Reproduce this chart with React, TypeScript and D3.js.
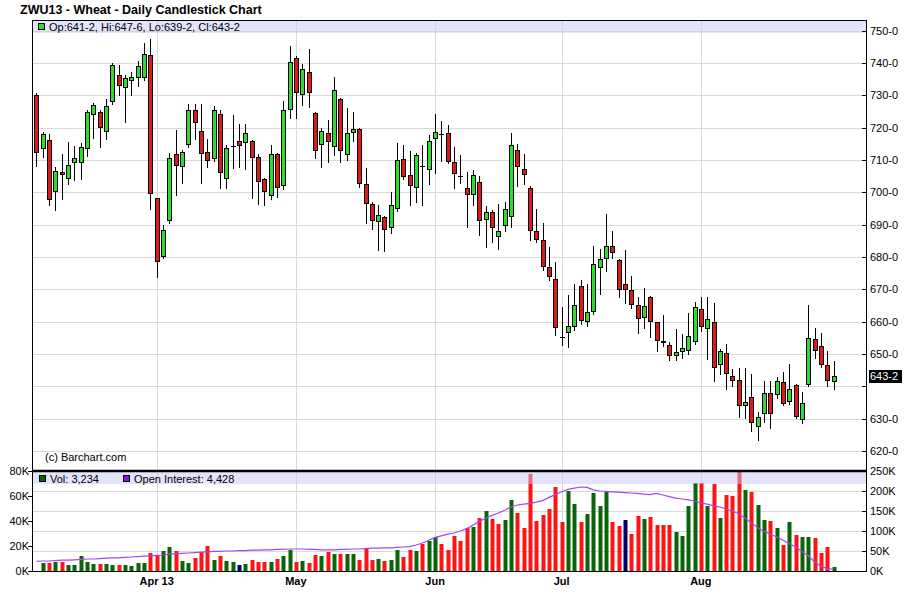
import React, { useEffect, useRef } from 'react';
import * as d3 from 'd3';

// trading days shown on the chart
const dates: string[] = [
  '2013-03-04', '2013-03-05', '2013-03-06', '2013-03-07', '2013-03-08', '2013-03-11', '2013-03-12',
  '2013-03-13', '2013-03-14', '2013-03-15', '2013-03-18', '2013-03-19', '2013-03-20', '2013-03-21',
  '2013-03-22', '2013-03-25', '2013-03-26', '2013-03-27', '2013-03-28',
  '2013-04-01', '2013-04-02', '2013-04-03', '2013-04-04', '2013-04-05', '2013-04-08', '2013-04-09',
  '2013-04-10', '2013-04-11', '2013-04-12', '2013-04-15', '2013-04-16', '2013-04-17', '2013-04-18',
  '2013-04-19', '2013-04-22', '2013-04-23', '2013-04-24', '2013-04-25', '2013-04-26', '2013-04-29',
  '2013-04-30',
  '2013-05-01', '2013-05-02', '2013-05-03', '2013-05-06', '2013-05-07', '2013-05-08', '2013-05-09',
  '2013-05-10', '2013-05-13', '2013-05-14', '2013-05-15', '2013-05-16', '2013-05-17', '2013-05-20',
  '2013-05-21', '2013-05-22', '2013-05-23', '2013-05-24', '2013-05-28', '2013-05-29', '2013-05-30',
  '2013-05-31',
  '2013-06-03', '2013-06-04', '2013-06-05', '2013-06-06', '2013-06-07', '2013-06-10', '2013-06-11',
  '2013-06-12', '2013-06-13', '2013-06-14', '2013-06-17', '2013-06-18', '2013-06-19', '2013-06-20',
  '2013-06-21', '2013-06-24', '2013-06-25', '2013-06-26', '2013-06-27', '2013-06-28',
  '2013-07-01', '2013-07-02', '2013-07-03', '2013-07-05', '2013-07-08', '2013-07-09', '2013-07-10',
  '2013-07-11', '2013-07-12', '2013-07-15', '2013-07-16', '2013-07-17', '2013-07-18', '2013-07-19',
  '2013-07-22', '2013-07-23', '2013-07-24', '2013-07-25', '2013-07-26', '2013-07-29', '2013-07-30',
  '2013-07-31',
  '2013-08-01', '2013-08-02', '2013-08-05', '2013-08-06', '2013-08-07', '2013-08-08', '2013-08-09',
  '2013-08-12', '2013-08-13', '2013-08-14', '2013-08-15', '2013-08-16', '2013-08-19', '2013-08-20',
  '2013-08-21', '2013-08-22', '2013-08-23', '2013-08-26', '2013-08-27', '2013-08-28', '2013-08-29',
  '2013-08-30',
];

// open, high, low, close (cents/bu)
const ohlc: [number, number, number, number][] = [
  [730.2, 730.6, 708.0, 712.1], [713.4, 718.5, 710.9, 718.0], [716.3, 718.0, 695.9, 697.5],
  [700.1, 707.7, 694.6, 706.7], [706.2, 711.8, 697.9, 705.4], [704.1, 715.5, 702.6, 708.4],
  [709.0, 714.4, 703.9, 710.6], [709.0, 715.2, 704.1, 714.0], [713.4, 725.5, 711.1, 724.9],
  [723.9, 727.6, 716.7, 727.0], [724.9, 725.5, 714.0, 719.9], [718.6, 728.8, 716.5, 726.7],
  [727.9, 740.0, 727.2, 739.4], [736.3, 739.2, 730.2, 732.9], [732.1, 736.3, 721.6, 735.2],
  [734.4, 737.1, 730.0, 735.7], [735.3, 740.7, 732.8, 739.1], [735.3, 746.2, 734.6, 742.8],
  [742.3, 747.5, 694.8, 699.4],
  [698.1, 698.1, 673.9, 678.4], [680.1, 689.8, 679.6, 688.3], [691.1, 712.1, 690.6, 710.6],
  [711.8, 719.3, 699.0, 708.1], [707.8, 713.2, 702.8, 712.4], [714.6, 727.4, 714.0, 725.4],
  [725.4, 727.3, 716.5, 721.4], [718.9, 727.4, 702.8, 711.8], [712.4, 716.5, 707.8, 709.6],
  [710.4, 726.6, 709.8, 725.4], [724.2, 725.5, 701.2, 705.9], [704.1, 714.5, 701.3, 713.7],
  [714.2, 724.0, 707.5, 714.2], [715.8, 721.2, 707.8, 714.2], [715.2, 721.1, 707.2, 718.3],
  [715.8, 716.2, 698.2, 710.6], [710.9, 711.8, 696.3, 703.1], [704.1, 704.5, 696.0, 700.0],
  [698.8, 714.6, 698.0, 711.8], [711.8, 712.2, 698.5, 701.3], [701.9, 728.3, 701.0, 725.4],
  [725.4, 745.3, 723.0, 740.3],
  [741.5, 742.0, 723.0, 730.7], [730.2, 739.5, 727.1, 738.1], [737.2, 744.3, 726.3, 730.7],
  [724.5, 724.8, 710.6, 712.8], [714.6, 720.0, 707.7, 718.9], [718.3, 722.4, 709.2, 715.5],
  [714.0, 735.6, 711.6, 731.6], [728.8, 729.2, 709.5, 712.8], [711.5, 726.0, 710.1, 718.3],
  [718.3, 724.9, 715.8, 719.6], [719.6, 720.0, 701.5, 702.5], [702.5, 707.6, 690.5, 696.3],
  [696.3, 697.0, 688.5, 691.1], [690.8, 695.9, 682.0, 692.9], [692.3, 692.6, 681.8, 688.3],
  [688.9, 700.0, 687.4, 696.0], [694.8, 715.2, 694.2, 710.0], [710.3, 714.6, 704.2, 704.8],
  [705.3, 712.7, 696.0, 701.9], [701.3, 712.1, 696.9, 711.5], [708.1, 714.6, 696.2, 708.1],
  [706.9, 717.7, 702.4, 715.8],
  [716.5, 724.3, 705.9, 718.6], [718.1, 722.1, 709.8, 718.1], [718.3, 720.8, 709.0, 709.3],
  [709.3, 714.0, 701.2, 705.5], [705.0, 711.5, 702.8, 705.0], [701.3, 706.2, 689.4, 699.0],
  [699.0, 706.8, 696.0, 705.3], [703.1, 704.9, 686.9, 691.0], [691.4, 695.8, 683.2, 693.9],
  [693.9, 694.5, 684.6, 688.9], [686.1, 696.3, 682.4, 688.0], [689.5, 697.1, 687.9, 694.8],
  [692.3, 718.3, 689.4, 714.6], [713.0, 714.9, 701.8, 707.8], [707.2, 711.8, 702.5, 705.3],
  [701.3, 701.9, 685.1, 687.9], [688.0, 694.8, 684.5, 685.2], [685.2, 690.5, 676.0, 677.0],
  [677.0, 683.2, 672.9, 673.9], [673.2, 678.4, 655.9, 658.0],
  [655.3, 664.4, 652.8, 655.3], [656.4, 668.3, 652.3, 658.5], [658.3, 671.7, 657.5, 665.1],
  [671.1, 672.9, 659.3, 660.1], [659.8, 671.6, 658.7, 663.1], [663.1, 683.5, 662.4, 677.8],
  [676.5, 682.4, 668.6, 679.3], [679.3, 693.4, 675.8, 683.4], [683.4, 688.1, 679.6, 681.2],
  [679.0, 679.5, 667.6, 669.7], [671.6, 682.0, 665.7, 669.7], [669.8, 674.2, 664.1, 665.1],
  [665.1, 667.6, 656.6, 660.8], [661.1, 670.4, 658.0, 664.8], [667.6, 668.0, 655.2, 659.8],
  [659.8, 660.0, 650.8, 654.0], [654.0, 662.1, 652.5, 653.3], [652.7, 653.8, 648.1, 649.3],
  [649.3, 657.7, 648.1, 650.5], [650.5, 656.1, 648.8, 651.8], [650.8, 662.7, 650.0, 655.5],
  [653.8, 666.0, 653.0, 664.5],
  [663.9, 667.6, 657.0, 658.3], [657.7, 667.6, 648.4, 660.8], [659.8, 665.7, 641.5, 645.6],
  [646.5, 651.5, 643.7, 650.9], [650.2, 653.0, 639.1, 643.7], [643.1, 645.3, 640.1, 641.5],
  [641.9, 645.6, 630.6, 633.8], [633.8, 645.6, 630.1, 635.1], [636.6, 643.8, 626.3, 628.6],
  [627.3, 632.2, 623.4, 630.6], [631.5, 641.5, 629.1, 637.9], [637.9, 641.5, 627.0, 631.5],
  [637.3, 643.0, 636.5, 641.5], [641.2, 644.4, 634.2, 634.6], [635.2, 646.9, 634.5, 639.1],
  [640.3, 640.6, 630.1, 630.6], [629.6, 638.2, 628.6, 634.8], [640.3, 665.1, 640.0, 654.9],
  [654.6, 658.1, 648.7, 650.8], [652.4, 656.4, 646.0, 646.7], [646.5, 651.0, 640.1, 641.5],
  [641.25, 647.75, 639.25, 643.25],
];

// daily volume (contracts)
const volume: number[] = [
  0, 6400, 6400, 7200, 7200, 4800, 4800, 12000, 7200, 5600, 5600, 5600, 4800, 4800, 4800, 4000, 6400, 6400, 14400,
  12800, 16000, 19200, 16000, 8000, 6400, 10400, 15200, 20000, 8800, 12000, 8000, 7200, 4800, 5600, 8800, 7200,
  7200, 7200, 9600, 12000, 17000,
  7200, 8000, 6400, 12800, 12000, 15200, 13600, 13600, 13600, 13600, 8800, 17900, 8800, 9400, 8000, 8800, 16800,
  11500, 16800, 16000, 21300, 24000,
  27200, 21300, 16800, 28000, 24000, 34400, 35200, 42400, 48000, 41600, 37600, 40800, 56800, 46400, 34400, 77600,
  40000, 44800, 49600, 67200,
  39200, 64000, 53600, 39200, 45600, 62400, 52000, 63200, 39200, 36000, 40800, 29600, 44000, 41600, 43200, 36800,
  36800, 36800, 31200, 28000, 52000, 70400,
  70400, 52000, 69600, 42400, 60800, 60000, 82000, 64800, 63200, 52800, 40800, 40000, 34400, 20800, 39200, 28800,
  27200, 27200, 26400, 14400, 19200, 3234,
];

// open interest (thousands of contracts)
const openInterest: number[] = [
  24, 25, 25, 26, 27, 27, 28, 29, 30, 30, 31, 32, 33, 33, 34, 35, 36, 37, 38,
  39, 40, 42, 43, 44, 45, 46, 47, 48, 49, 49, 50, 50, 51, 51, 52, 52, 53, 53, 54, 54, 55,
  55, 55, 54, 54, 53, 53, 53, 54, 54, 55, 55, 56, 57, 57, 58, 58, 59, 60, 61, 65, 70, 77,
  84, 88, 92, 95, 100, 106, 115, 124, 132, 139, 145, 152, 160, 165, 167, 169, 172, 176, 184, 191,
  198, 204, 207, 210, 209, 203, 200, 199, 198, 197, 196, 195, 194, 192, 191, 194, 190, 186, 182, 180,
  178, 175,
  170, 167, 163, 160, 155, 150, 143, 132, 120, 108, 99, 92, 85, 77, 68, 60, 48, 38, 22, 12, 6, 4.428,
];

const priceTicks = [620, 630, 640, 650, 660, 670, 680, 690, 700, 710, 720, 730, 740, 750];
const volumeTicks = [0, 20000, 40000, 60000, 80000];
const oiTicks = [0, 50000, 100000, 150000, 200000, 250000];
const monthStarts = ['2013-04-01', '2013-05-01', '2013-06-03', '2013-07-01', '2013-08-01'];
const monthLabels = ['Apr 13', 'May', 'Jun', 'Jul', 'Aug'];

const FONT = '"Liberation Sans", Arial, sans-serif';

const fmtPrice = (p: number) => {
  const whole = Math.floor(p);
  return `${whole}-${Math.round((p - whole) * 8)}`;
};

const App: React.FC = () => {
  const svgRef = useRef<SVGSVGElement>(null);

  useEffect(() => {
    if (!svgRef.current) return;
    const svg = d3.select(svgRef.current);
    svg.selectAll('*').remove();

    const width = 908;
    const height = 595;
    const left = 32;
    const right = 866;
    const top = 20;
    const split = 471;
    const bottom = 571;

    const x = d3.scaleLinear()
      .domain([-0.71, dates.length + 4.1])
      .range([left, right]);
    const y = d3.scaleLinear().domain([620, 750]).range([451, 30.5]);
    const yVol = d3.scaleLinear().domain([0, 80000]).range([bottom, split]);
    const yOI = d3.scaleLinear().domain([0, 250000]).range([bottom, split]);

    const crisp = (v: number) => Math.round(v) + 0.5;
    const grid = '#d9d9d9';

    svg.append('rect').attr('width', width).attr('height', height).attr('fill', '#fff');

    const defs = svg.append('defs');
    defs.append('clipPath').attr('id', 'price-clip')
      .append('rect').attr('x', left + 1).attr('y', top + 1)
      .attr('width', right - left - 1).attr('height', split - top - 1);
    defs.append('clipPath').attr('id', 'vol-clip')
      .append('rect').attr('x', left + 1).attr('y', split + 1)
      .attr('width', right - left - 1).attr('height', bottom - split - 1);

    // grid lines
    const gridG = svg.append('g').attr('stroke', grid).attr('stroke-width', 1);
    priceTicks.forEach(t => {
      gridG.append('line')
        .attr('x1', left).attr('x2', right)
        .attr('y1', crisp(y(t))).attr('y2', crisp(y(t)));
    });
    oiTicks.filter(t => t > 0 && t < 250000).forEach(t => {
      gridG.append('line')
        .attr('x1', left).attr('x2', right)
        .attr('y1', crisp(yOI(t))).attr('y2', crisp(yOI(t)));
    });
    monthStarts.forEach(d => {
      const xi = crisp(x(dates.indexOf(d)));
      gridG.append('line').attr('x1', xi).attr('x2', xi).attr('y1', top).attr('y2', bottom);
    });

    // candles
    const cg = svg.append('g').attr('clip-path', 'url(#price-clip)');
    ohlc.forEach(([o, h, l, c], i) => {
      const px = Math.round(x(i));
      cg.append('line')
        .attr('x1', px + 0.5).attr('x2', px + 0.5)
        .attr('y1', Math.round(y(h))).attr('y2', Math.round(y(l)) + 1)
        .attr('stroke', '#000');
      if (o === c) {
        cg.append('line')
          .attr('x1', px - 2).attr('x2', px + 3)
          .attr('y1', crisp(y(o))).attr('y2', crisp(y(o)))
          .attr('stroke', '#000');
        return;
      }
      const yTop = Math.round(y(Math.max(o, c)));
      const yBot = Math.round(y(Math.min(o, c)));
      cg.append('rect')
        .attr('x', px - 1.5).attr('y', yTop + 0.5)
        .attr('width', 4).attr('height', Math.max(1, yBot - yTop - 1))
        .attr('fill', c > o ? '#2edc2e' : '#dc1a1a')
        .attr('stroke', '#000');
    });

    // price legend band
    svg.append('rect')
      .attr('x', left + 1).attr('y', top + 1).attr('width', right - left - 1).attr('height', 12)
      .attr('fill', '#c8c8f8').attr('opacity', 0.5);
    const last = ohlc[ohlc.length - 1];
    svg.append('rect')
      .attr('x', 38.5).attr('y', 23.5).attr('width', 6).attr('height', 6)
      .attr('fill', '#2edc2e').attr('stroke', '#000');
    svg.append('text')
      .attr('x', 49).attr('y', 31)
      .attr('font-family', FONT).attr('font-size', 11)
      .text(`Op:${fmtPrice(last[0])}, Hi:${fmtPrice(last[1])}, Lo:${fmtPrice(last[2])}, Cl:${fmtPrice(last[3])}`);

    svg.append('text')
      .attr('x', 45).attr('y', 461)
      .attr('font-family', FONT).attr('font-size', 11)
      .text('(c) Barchart.com');

    // volume bars
    const vg = svg.append('g').attr('clip-path', 'url(#vol-clip)');
    volume.forEach((v, i) => {
      if (!v) return;
      const prev = i > 0 ? ohlc[i - 1][3] : ohlc[i][0];
      const close = ohlc[i][3];
      const fill = close > prev ? '#0a650a' : close < prev ? '#ff1414' : '#000066';
      const px = Math.round(x(i));
      const yv = Math.round(yVol(v));
      vg.append('rect')
        .attr('x', px - 1.5).attr('y', yv)
        .attr('width', 4).attr('height', bottom - yv)
        .attr('fill', fill);
    });

    const oiLine = d3.line<number>()
      .x((_, i) => x(i))
      .y(d => yOI(d * 1000));
    vg.append('path')
      .datum(openInterest)
      .attr('fill', 'none')
      .attr('stroke', '#a347f5')
      .attr('stroke-width', 1.2)
      .attr('d', oiLine);

    svg.append('rect')
      .attr('x', left + 1).attr('y', split + 1).attr('width', right - left - 1).attr('height', 12)
      .attr('fill', '#c8c8f8').attr('opacity', 0.5);
    svg.append('rect')
      .attr('x', 39.5).attr('y', 475.5).attr('width', 6).attr('height', 6)
      .attr('fill', '#0a650a').attr('stroke', '#000');
    svg.append('text')
      .attr('x', 50).attr('y', 483)
      .attr('font-family', FONT).attr('font-size', 11)
      .text(`Vol: ${d3.format(',')(volume[volume.length - 1])}`);
    svg.append('rect')
      .attr('x', 123.5).attr('y', 475.5).attr('width', 6).attr('height', 6)
      .attr('fill', '#9010e0').attr('stroke', '#000');
    svg.append('text')
      .attr('x', 134).attr('y', 483)
      .attr('font-family', FONT).attr('font-size', 11)
      .text(`Open Interest: ${d3.format(',')(Math.round(openInterest[openInterest.length - 1] * 1000))}`);

    // frame
    const frame = svg.append('g').attr('stroke', '#000');
    frame.append('line').attr('x1', left + 0.5).attr('x2', left + 0.5).attr('y1', top).attr('y2', bottom + 1);
    frame.append('line').attr('x1', right + 0.5).attr('x2', right + 0.5).attr('y1', top).attr('y2', bottom + 1);
    frame.append('line').attr('x1', left).attr('x2', right + 1).attr('y1', top + 0.5).attr('y2', top + 0.5);
    frame.append('line').attr('x1', left).attr('x2', right + 1).attr('y1', bottom + 0.5).attr('y2', bottom + 0.5);
    frame.append('line').attr('x1', left).attr('x2', right + 1).attr('y1', split).attr('y2', split)
      .attr('stroke-width', 2.5);

    // right price axis
    const axisG = svg.append('g').attr('font-family', FONT).attr('font-size', 11);
    const lastClose = last[3];
    priceTicks.forEach(t => {
      const yy = crisp(y(t));
      axisG.append('line').attr('x1', right - 4).attr('x2', right).attr('y1', yy).attr('y2', yy).attr('stroke', '#000');
      if (Math.abs(t - lastClose) < 4) return;
      axisG.append('text').attr('x', right + 4).attr('y', yy).attr('dy', '0.35em').text(`${t}-0`);
    });
    const yLast = Math.round(y(lastClose));
    axisG.append('rect').attr('x', right + 3).attr('y', yLast - 6).attr('width', 33).attr('height', 13).attr('fill', '#000');
    axisG.append('text').attr('x', right + 4).attr('y', yLast + 0.5).attr('dy', '0.35em')
      .attr('fill', '#fff').text(fmtPrice(lastClose));

    // volume axes
    volumeTicks.forEach(t => {
      const yy = crisp(yVol(t));
      axisG.append('line').attr('x1', left - 4).attr('x2', left).attr('y1', yy).attr('y2', yy).attr('stroke', '#000');
      axisG.append('text').attr('x', left - 3).attr('y', yy).attr('dy', '0.35em')
        .attr('text-anchor', 'end').text(`${t / 1000}K`);
    });
    oiTicks.forEach(t => {
      const yy = crisp(yOI(t));
      axisG.append('line').attr('x1', right - 4).attr('x2', right).attr('y1', yy).attr('y2', yy).attr('stroke', '#000');
      axisG.append('text').attr('x', right + 4).attr('y', yy).attr('dy', '0.35em').text(`${t / 1000}K`);
    });

    // month labels
    monthStarts.forEach((d, k) => {
      axisG.append('text')
        .attr('x', x(dates.indexOf(d)))
        .attr('y', 585)
        .attr('text-anchor', 'middle')
        .attr('font-weight', 'bold')
        .text(monthLabels[k]);
    });

    svg.append('text')
      .attr('x', 20).attr('y', 14)
      .attr('font-family', FONT).attr('font-size', 12.5).attr('font-weight', 'bold')
      .text('ZWU13 - Wheat - Daily Candlestick Chart');
  }, []);

  return (
    <svg ref={svgRef} width={908} height={595} style={{ position: 'absolute', left: 0, top: 0 }} />
  );
};

export default App;
